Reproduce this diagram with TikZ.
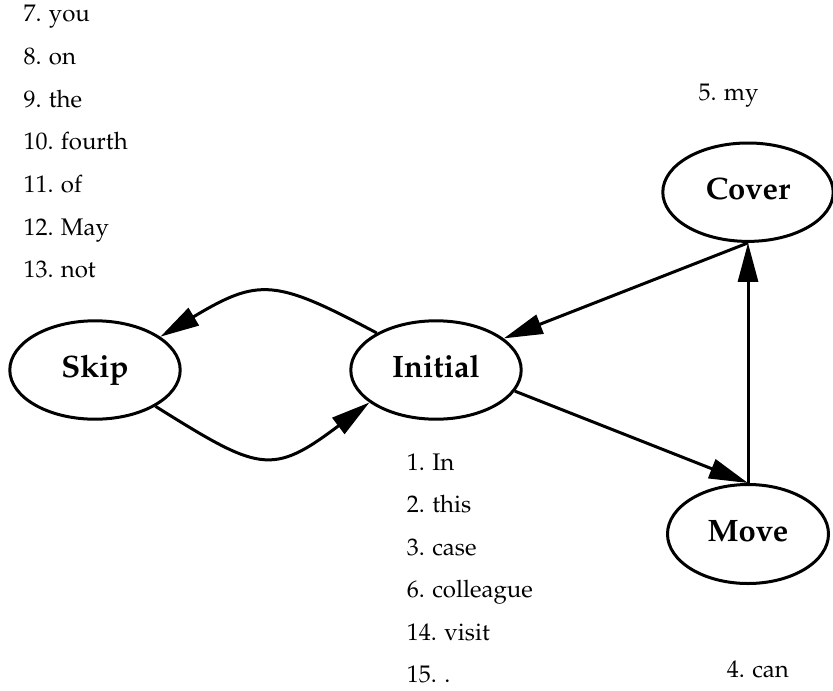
\documentclass[tikz,border=0pt]{standalone}
\usepackage[T1]{fontenc}
\usepackage{mathpazo}
\usetikzlibrary{arrows.meta,shapes.geometric}
\tikzset{
  state/.style={ellipse, draw, line width=3pt, inner sep=0pt,
    minimum width=170.4pt, minimum height=98.4pt,
    text height=22pt, text depth=8pt,
    font=\fontsize{31}{36}\selectfont\bfseries},
  lbl/.style={anchor=base west, inner sep=0pt, font=\fontsize{24}{28}\selectfont},
  arr/.style={line width=3pt, -{Triangle[length=39pt,width=20pt]}},
}
\begin{document}
\begin{tikzpicture}[x=1pt,y=1pt]
\useasboundingbox (0,0) rectangle (833,-691);
% states
\node[state] (skip) at (95,-370) {Skip};
\node[state] (initial) at (436,-370) {Initial};
\node[state] (cover) at (748,-192.2) {Cover};
\node[state, minimum width=161pt, minimum height=99pt] (move) at (748,-534) {Move};
% edges
\draw[arr] (initial.148.3) .. controls +(-101.5,54) and +(98.6,59.2) .. (skip.27);
\draw[arr] (skip.-31.7) .. controls +(104,-65) and +(-98,-74) .. (initial.206);
\draw[arr] (cover.south) -- (initial.25.3);
\draw[arr] (initial.-15.5) -- (move.north);
\draw[arr] (move.north) -- (cover.south);
% word labels
\node[lbl] (w7)  at (23.3,-21.7)  {7. you};
\node[lbl] (w8)  at (23.3,-64.4)  {8. on};
\node[lbl] (w9)  at (23.3,-107.1) {9. the};
\node[lbl] (w10) at (23.3,-149.8) {10. fourth};
\node[lbl] (w11) at (23.3,-192.5) {11. of};
\node[lbl] (w12) at (23.3,-235.2) {12. May};
\node[lbl] (w13) at (23.3,-277.9) {13. not};
\node[lbl] (w5)  at (698.3,-100)  {5. my};
\node[lbl] (w1)  at (406.7,-470)  {1. In};
\node[lbl] (w2)  at (406.7,-512.5){2. this};
\node[lbl] (w3)  at (406.7,-555)  {3. case};
\node[lbl] (w6)  at (406.7,-597.5){6. colleague};
\node[lbl] (w14) at (406.7,-640)  {14. visit};
\node[lbl] (w15) at (406.7,-682.5){15. .};
\node[lbl] (w4)  at (726.7,-677)  {4. can};
\end{tikzpicture}
\end{document}
